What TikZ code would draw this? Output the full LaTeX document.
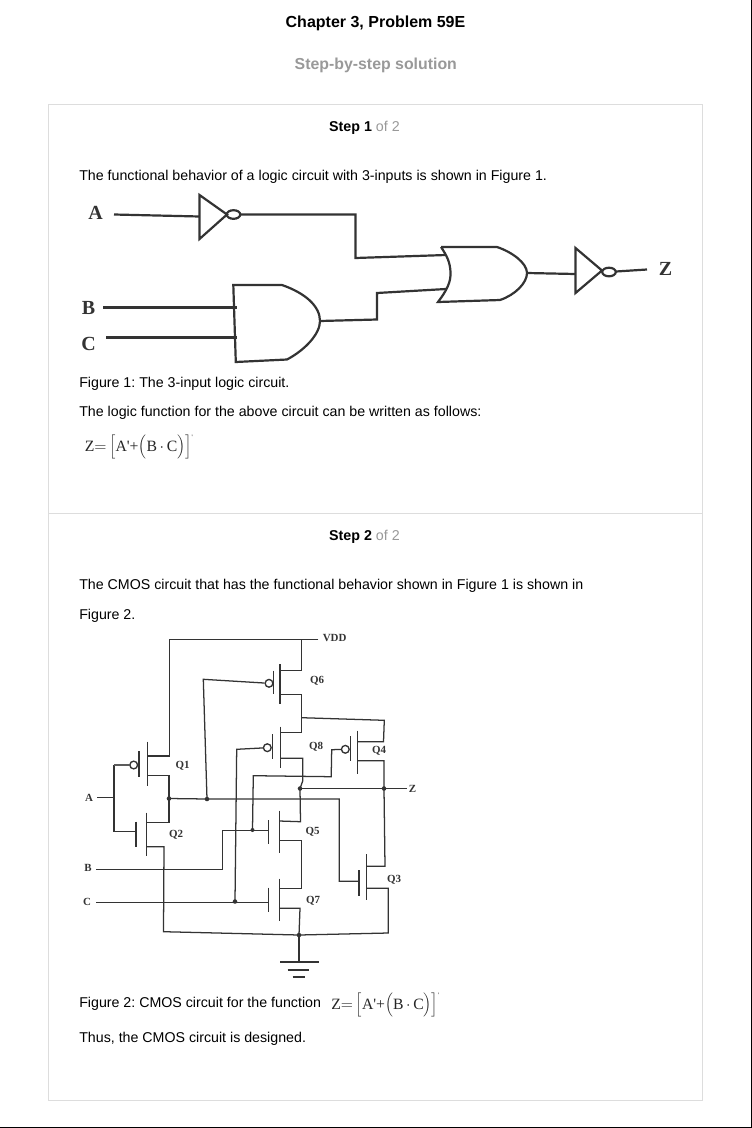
\documentclass[tikz,border=0pt]{standalone}
\usepackage{fontspec}
\setmainfont{Liberation Sans}
\newfontfamily\eqfont[Ligatures=NoCommon]{Liberation Serif}
\usetikzlibrary{calc}
\frenchspacing
\definecolor{ink}{HTML}{333333}
\definecolor{card}{HTML}{DDDDDD}
\definecolor{mutedtxt}{HTML}{999999}
\newcommand{\zeq}{{\eqfont\fontsize{11.8}{13}\selectfont$\hbox{Z}{=}\,\Big[\hbox{A'+}\Big(\hbox{B}\,{\cdot}\,\hbox{C}\Big)\Big]^{\hbox{\tiny '}}$}}
\tikzset{
  body/.style={anchor=base west,inner sep=0pt,font=\fontsize{10.66}{12}\selectfont,text=black},
  title/.style={anchor=base,inner sep=0pt,font=\fontsize{12}{14}\selectfont\bfseries,text=black},
  subtitle/.style={anchor=base,inner sep=0pt,font=\fontsize{11.9}{14}\selectfont\bfseries,text=mutedtxt},
  steplabel/.style={anchor=base,inner sep=0pt,font=\fontsize{10.7}{12}\selectfont,text=black},
  eq/.style={inner sep=0pt,text=black!85},
  gate/.style={draw=ink,line width=1.65pt,line join=miter},
  gwire/.style={draw=ink,line width=1.65pt},
  bigtag/.style={inner sep=0pt,font=\eqfont\bfseries\fontsize{15}{17}\selectfont,text=ink},
  wire/.style={draw=ink,line width=0.95pt},
  fetline/.style={draw=ink,line width=1.1pt},
  smalltag/.style={inner sep=0pt,font=\eqfont\bfseries\fontsize{8.2}{10}\selectfont,text=ink},
  jdot/.style={circle,fill=ink,inner sep=0pt,minimum size=3.4pt},
  bub/.style={circle,draw=ink,line width=1pt,fill=white,inner sep=0pt,minimum size=5.8pt},
}
\begin{document}
\begin{tikzpicture}[x=0.75pt,y=-0.75pt]
\useasboundingbox (0,0) rectangle (752,1128);
\fill[white] (0,0) rectangle (752,1128);
\draw[black,line width=0.75pt] (751.5,0) -- (751.5,1127.5) -- (0,1127.5);
\draw[card,line width=0.75pt] (48.5,104.5) rectangle (702.5,1100.5);
\draw[card,line width=0.75pt] (48.5,513.5) -- (702.5,513.5);

% text
\node[title] (t1) at (375.5,27) {Chapter 3, Problem 59E};
\node[subtitle] (t2) at (375.8,69) {Step-by-step solution};
\node[steplabel] (s1) at (364.5,131) {\textbf{Step 1} \textcolor{mutedtxt}{of 2}};
\node[steplabel] (s2) at (364.5,540) {\textbf{Step 2} \textcolor{mutedtxt}{of 2}};
\node[body] (b1) at (79,180) {The functional behavior of a logic circuit with 3-inputs is shown in Figure 1.};
\node[body] (b2) at (79,387) {Figure 1: The 3-input logic circuit.};
\node[body] (b3) at (79,416) {The logic function for the above circuit can be written as follows:};
\node[eq,anchor=west] (e1) at (84.5,447) {\zeq};
\node[body] (b4) at (79,589) {The CMOS circuit that has the functional behavior shown in Figure 1 is shown in};
\node[body] (b5) at (79,619) {Figure 2.};
\node[body] (b6) at (79,1007) {Figure 2: CMOS circuit for the function};
\node[eq,anchor=west] (e2) at (331,1005) {\zeq};
\node[body] (b7) at (79,1042) {Thus, the CMOS circuit is designed.};

% ---------- Figure 1 ----------
\node[bigtag] (A1) at (95.5,213) {A};
\node[bigtag] (B1) at (88.5,308) {B};
\node[bigtag] (C1) at (88.5,344) {C};
\node[bigtag] (Z1) at (665.5,269) {Z};
\coordinate (aIn) at (114,214.5);
\coordinate (bIn) at (103,307.5);
\coordinate (cIn) at (106,337.5);
\coordinate (inv1in) at (199.5,216.5);
\coordinate (inv1out) at (240.5,214.5);
\coordinate (andB) at (237,307.5);
\coordinate (andC) at (237,337.5);
\coordinate (andOut) at (320,321);
\coordinate (orA) at (446,255);
\coordinate (orB) at (446,289);
\coordinate (orOut) at (527,273);
\coordinate (inv2in) at (575.5,274);
\coordinate (inv2out) at (616,271.5);
\coordinate (zOut) at (647,269.5);
\draw[gwire] (aIn) -- (inv1in);
\draw[gwire] (inv1out) -- (355.5,214.5) -- (355.5,258) -- (orA);
\draw[gwire] (bIn) -- (andB);
\draw[gwire] (cIn) -- (andC);
\draw[gwire] (andOut) -- (377,319.5) -- (377,293) -- (orB);
\draw[gwire] (orOut) -- (inv2in);
\draw[gwire] (inv2out) -- (zOut);
\draw[gate] (199.5,195) -- (199.5,239) -- (227,214.5) -- cycle;
\draw[gate] (233.5,214.5) ellipse [x radius=6.8,y radius=4.3];
\draw[gate] (575.5,248) -- (575.5,293) -- (602,270.5) -- cycle;
\draw[gate] (609,272) ellipse [x radius=6.8,y radius=4.3];
\draw[gate] (233.3,285) -- (282,285) .. controls (305,293) and (320,306) .. (andOut)
  .. controls (320,334) and (305,350) .. (287,359.5) -- (235.8,362) -- cycle;
\draw[gate] (441,247) -- (497,247) .. controls (512,252) and (527,263) .. (orOut)
  .. controls (527,283) and (515,295) .. (500,300) -- (438,302)
  .. controls (447,290) and (451,282) .. (450.5,272) .. controls (450,262) and (447,256) .. (441,247);

% ---------- Figure 2 ----------
\node[smalltag,anchor=west] (vdd) at (322.5,638) {VDD};
\node[smalltag] (A2) at (89,797.5) {A};
\node[smalltag] (B2) at (88,867.5) {B};
\node[smalltag] (C2) at (87,901.5) {C};
\node[smalltag] (Z2) at (412.5,788.5) {Z};
\node[smalltag] (q1) at (182.5,765.5) {Q1};
\node[smalltag] (q2) at (176,835) {Q2};
\node[smalltag] (q3) at (394,880) {Q3};
\node[smalltag] (q4) at (379,751) {Q4};
\node[smalltag] (q5) at (312.5,832) {Q5};
\node[smalltag] (q6) at (317,681) {Q6};
\node[smalltag] (q7) at (313,901) {Q7};
\node[smalltag] (q8) at (316,747) {Q8};

% named junctions and free ends
\coordinate (vddEnd) at (318.3,639.3);
\coordinate (vddL) at (169.5,639.3);
\coordinate (vddQ6) at (301.3,639.3);
\coordinate (jOut) at (169,798.5);
\coordinate (jQ6g) at (207,799);
\coordinate (jZl) at (300,788.5);
\coordinate (jZr) at (384,788.5);
\coordinate (zEnd) at (406.7,788.5);
\coordinate (jB) at (252.5,830);
\coordinate (jC) at (235,901.5);
\coordinate (jGnd) at (299,935);
\coordinate (aEnd) at (97,797.5);
\coordinate (aJ) at (114,797.5);
\coordinate (bEnd) at (96,869.3);
\coordinate (cEnd) at (96,902.3);

% FET channels and gate bars
\foreach \xa/\ya/\yb/\xb/\yc/\yd in {
  147.3/741.7/785.7/139/751/776.7,
  146.3/812.7/855.7/136/821.7/846.7,
  366.7/854.3/900/359/870/895.7,
  357.7/730.7/774/350.7/736/761,
  279.3/810.7/853.3/268.7/820/844.3,
  280/664.3/704/273.3/670.7/694.3,
  279.3/878.7/921/268.7/887.7/912.3,
  280.7/726.7/768.3/272.7/734.3/759}{
  \draw[fetline] (\xa,\ya) -- (\xa,\yb);
  \draw[fetline] (\xb,\yc) -- (\xb,\yd);
}

% supply
\draw[wire] (vddEnd) -- (vddL) -- (169.5,756) -- (147.3,756);
\draw[wire] (vddQ6) -- (301.3,670.7) -- (280,670.7);
% Q6 / Q8 / Q4 sources
\draw[wire] (280,694.3) -- (301.7,694.3) -- (301.7,732.7) -- (280.7,732.7);
\draw[wire] (301.7,717.7) -- (384.3,720.3) -- (383.5,741.7) -- (357.7,741.7);
\draw[wire] (357.7,760.7) -- (384,760.7) -- (jZr) -- (385,866.3) -- (366.7,866.3);
\draw[wire] (280.7,758.3) -- (302.7,758.3) -- (302.7,781) -- (jZl) -- (300.5,821.7) -- (279.3,821);
% output Z
\draw[wire] (jZl) -- (jZr) -- (zEnd);
% Q1/Q2
\node[bub] (b1g) at (133.7,765) {};
\draw[wire] (aEnd) -- (aJ);
\draw[wire] (114,765) -- (114,831.7) -- (136,831.7);
\draw[draw=ink!80,line width=1.5pt] (114,765) -- (b1g);
\draw[wire] (147.3,775.7) -- (169,775.7) -- (jOut) -- (169,822.7) -- (146.3,822.7);
\draw[wire] (146.3,846.7) -- (164,846.7) -- (163.5,931.7) -- (jGnd);
% common node to Q3 gate
\draw[wire] (jOut) -- (jQ6g) -- (339.3,799) -- (339.3,881.3) -- (359,881.3);
% Q6 gate
\node[bub] (b6g) at (269,683.3) {};
\draw[wire] (jQ6g) -- (203.3,679.3) -- (b6g);
% Q8 gate
\node[bub] (b8g) at (267.3,747.7) {};
\draw[wire] (jC) -- (236.7,749.3) -- (b8g);
% Q4 gate
\node[bub] (b4g) at (345.3,749.3) {};
\draw[wire] (b4g) -- (331.7,749.7) -- (331.2,776.7) -- (253.3,775.7) -- (jB);
% inputs
\draw[wire] (bEnd) -- (222.3,869.3) -- (222.3,830.7) -- (268.7,830.7);
\draw[wire] (cEnd) -- (268.7,902.3);
% Q5-Q7-ground
\draw[wire] (279.3,840.7) -- (301.3,840.7) -- (301.3,888.7) -- (279.3,888.7);
\draw[wire] (279.3,908.3) -- (300,908.3) -- (jGnd);
\draw[wire] (jGnd) -- (388.3,933) -- (388.3,888.3) -- (366.7,888.3);
\draw[wire] (jGnd) -- (299,962);
\draw[fetline] (280,962) -- (318.7,962);
\draw[fetline] (287.7,970) -- (309.3,970);
\draw[fetline] (292.7,977) -- (305,977);
% dots
\foreach \p in {jOut,jQ6g,jZl,jZr,jC,jGnd}{\node[jdot] at (\p) {};}
\node[jdot,minimum size=3pt] at (jB) {};
\end{tikzpicture}
\end{document}
